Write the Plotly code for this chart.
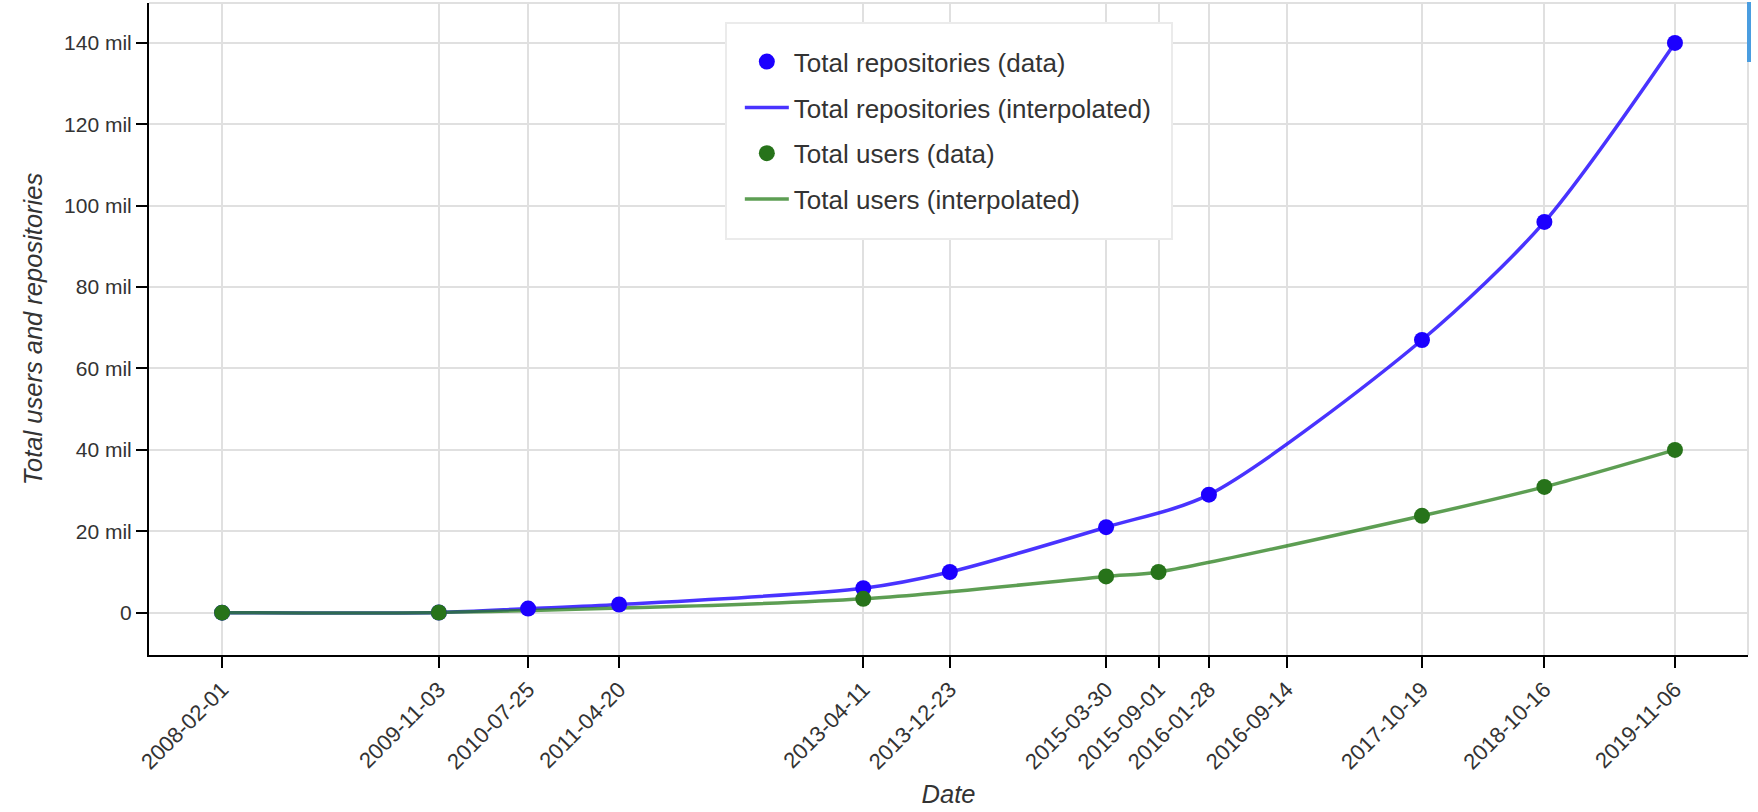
import plotly.graph_objects as go

# ---- data (values in millions) ----
tick_dates = ["2008-02-01", "2009-11-03", "2010-07-25", "2011-04-20", "2013-04-11",
              "2013-12-23", "2015-03-30", "2015-09-01", "2016-01-28", "2016-09-14",
              "2017-10-19", "2018-10-16", "2019-11-06"]

repo_dates = ["2008-02-01", "2009-11-03", "2010-07-25", "2011-04-20", "2013-04-11",
              "2013-12-23", "2015-03-30", "2016-01-28", "2017-10-19", "2018-10-16",
              "2019-11-06"]
repo_vals = [0.0, 0.05, 1.0, 2.0, 6.0, 10.0, 21.0, 29.0, 67.0, 96.0, 140.0]

user_dates = ["2008-02-01", "2009-11-03", "2013-04-11", "2015-03-30", "2015-09-01",
              "2017-10-19", "2018-10-16", "2019-11-06"]
user_vals = [0.0, 0.05, 3.4, 8.9, 10.0, 23.8, 30.9, 40.0]

y_ticks = [0, 20, 40, 60, 80, 100, 120, 140]
y_ticktext = ["0", "20 mil", "40 mil", "60 mil", "80 mil", "100 mil", "120 mil", "140 mil"]

FONT = "Liberation Sans, Arial, Helvetica, sans-serif"
TXT = "#333333"
BLUE_M = "#1c00ff"
BLUE_L = "rgba(28,0,255,0.8)"
GREEN_M = "#27731a"
GREEN_L = "rgba(39,125,25,0.75)"

fig = go.Figure()
# lines first (drawn underneath), markers on top; legend order via legendrank
fig.add_trace(go.Scatter(x=repo_dates, y=repo_vals, mode="lines",
                         name="Total repositories (interpolated)", legendgroup="b", legendrank=2,
                         line=dict(color=BLUE_L, width=3.5, shape="spline", smoothing=0.8)))
fig.add_trace(go.Scatter(x=user_dates, y=user_vals, mode="lines",
                         name="Total users (interpolated)", legendgroup="d", legendrank=4,
                         line=dict(color=GREEN_L, width=3.5, shape="spline", smoothing=0.8)))
fig.add_trace(go.Scatter(x=repo_dates, y=repo_vals, mode="markers",
                         name="Total repositories (data)", legendgroup="a", legendrank=1,
                         marker=dict(color=BLUE_M, size=16)))
fig.add_trace(go.Scatter(x=user_dates, y=user_vals, mode="markers",
                         name="Total users (data)", legendgroup="c", legendrank=3,
                         marker=dict(color=GREEN_M, size=16)))

fig.update_layout(
    width=1758, height=812,
    margin=dict(l=149, r=10, t=3, b=157),
    paper_bgcolor="white", plot_bgcolor="white",
    font=dict(family=FONT, color=TXT, size=21),
    showlegend=True,
    legend=dict(x=0.3695, y=0.946, xanchor="left", yanchor="top",
                bgcolor="rgba(0,0,0,0)", borderwidth=0,
                font=dict(size=26, color=TXT),
                traceorder="grouped", tracegroupgap=9, itemwidth=44),
    xaxis=dict(
        type="date",
        range=["2007-06-30", "2020-06-09"],
        tickmode="array", tickvals=tick_dates, ticktext=tick_dates,
        tickangle=-45, tickfont=dict(size=22, color=TXT),
        ticks="outside", ticklen=11, tickwidth=2, tickcolor="black",
        showline=True, linecolor="black", linewidth=2,
        showgrid=True, gridcolor="#e0e0e0", gridwidth=1.5,
        zeroline=False,
        title=dict(text="<i>Date</i>", font=dict(size=25.5, color=TXT), standoff=12),
    ),
    yaxis=dict(
        range=[-10.4, 149.8],
        tickmode="array", tickvals=y_ticks, ticktext=y_ticktext,
        tickfont=dict(size=21, color=TXT),
        ticks="outside", ticklen=11, tickwidth=2, tickcolor="black",
        showline=True, linecolor="black", linewidth=2,
        showgrid=True, gridcolor="#e0e0e0", gridwidth=1.5,
        zeroline=False,
        title=dict(text="<i>Total users and repositories</i>", font=dict(size=25.5, color=TXT), standoff=14),
    ),
    shapes=[
        dict(type="line", xref="paper", yref="paper", x0=0, x1=1, y0=1, y1=1,
             line=dict(color="#e0e0e0", width=2), layer="below"),
        dict(type="line", xref="paper", yref="paper", x0=1, x1=1, y0=0, y1=1,
             line=dict(color="#e0e0e0", width=2), layer="below"),
        dict(type="rect", xref="paper", yref="paper",
             x0=(726 - 149) / 1599, x1=(1172 - 149) / 1599,
             y0=(655 - 239) / 652, y1=(655 - 23) / 652,
             fillcolor="white", line=dict(color="#ebebeb", width=2), layer="above"),
        dict(type="rect", xref="paper", yref="paper",
             x0=(1747 - 149) / 1599, x1=(1751 - 149) / 1599,
             y0=(655 - 62) / 652, y1=(655 - 2) / 652,
             fillcolor="#4a9de0", line=dict(width=0), layer="above"),
    ],
)

fig.write_html("out.html", config={"displayModeBar": False},
               post_script="document.body.style.margin='0';")
